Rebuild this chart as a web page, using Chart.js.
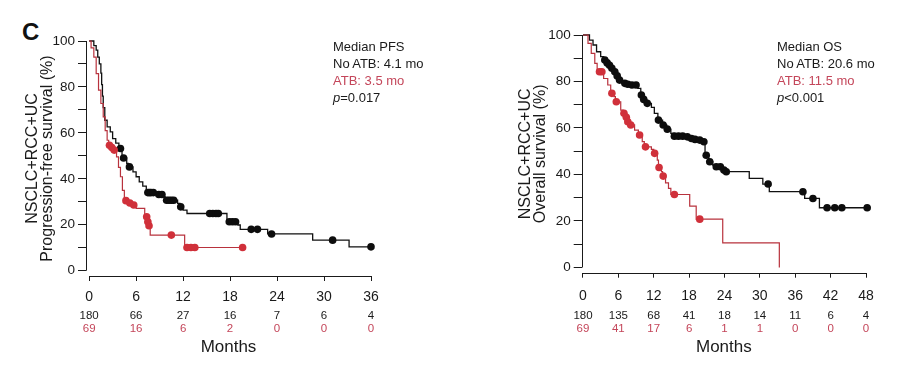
<!DOCTYPE html>
<html>
<head>
<meta charset="utf-8">
<script src="https://cdn.jsdelivr.net/npm/chart.js@4/dist/chart.umd.min.js"></script>
<style>
  body { margin: 0; background: #fff; }
  #wrap { position: relative; width: 903px; height: 366px; }
  canvas { position: absolute; top: 0; }
  #panel { position: absolute; left: 22px; top: 18px; font: bold 24px "Liberation Sans", Arial, sans-serif; color: #111; }
</style>
</head>
<body>
<div id="wrap">
  <div id="panel">C</div>
  <canvas id="pfs_chart" width="450" height="366" style="left:0"></canvas>
  <canvas id="os_chart" width="453" height="366" style="left:450px"></canvas>
</div>
<script>
// ---- progression-free survival (left) ----
const pfsTicks = [0, 6, 12, 18, 24, 30, 36];
const pfsRiskNoAtb = [180, 66, 27, 16, 7, 6, 4];
const pfsRiskAtb = [69, 16, 6, 2, 0, 0, 0];

const pfsNoAtbT = [0, 0.6, 0.9, 1.1, 1.3, 1.5, 1.6, 1.7, 1.8, 2.0, 2.3, 2.7, 3.0, 3.4, 3.8, 4.2, 4.8, 5.0, 5.6, 6.0, 6.4, 6.85, 7.3, 8.5, 9.4, 9.7, 11.3, 11.6, 12.0, 12.5, 17.6, 19.0, 19.3, 22.8, 28.55, 33.2, 36];
const pfsNoAtbS = [100, 98, 96, 93, 90, 86, 81, 76, 71, 65.5, 62.6, 60.4, 57.5, 55.5, 53.2, 49.1, 46.7, 45.2, 43, 40.9, 38.7, 36.8, 34, 33.2, 32.2, 30.7, 29.3, 27.8, 26.4, 24.9, 21.3, 19.9, 18, 16, 13.3, 10.4, 10.4];
const pfsNoAtbCensT = [4.0, 4.4, 5.15, 7.5, 7.7, 7.9, 8.2, 8.9, 9.3, 9.9, 10.2, 10.5, 10.8, 11.7, 15.4, 15.8, 16.2, 16.5, 17.9, 18.3, 18.7, 20.7, 21.5, 23.3, 31.1, 36];
const pfsNoAtbCensS = [53.2, 49.1, 45.2, 34, 34, 34, 34, 33.2, 33.2, 30.7, 30.7, 30.7, 30.7, 27.8, 24.9, 24.9, 24.9, 24.9, 21.3, 21.3, 21.3, 18, 18, 16, 13.3, 10.4];

const pfsAtbT = [0, 0.25, 0.6, 0.9, 1.2, 1.5, 1.8, 2.05, 2.3, 2.5, 2.8, 3.1, 3.5, 3.75, 4.0, 4.25, 4.5, 5.0, 5.5, 6.0, 7.1, 7.45, 7.55, 7.8, 12.2, 19.6];
const pfsAtbS = [100, 97, 93, 85.8, 78.6, 72.8, 67, 61, 56.8, 54.6, 53.6, 52.5, 49.6, 45, 40.9, 35, 30.5, 29.5, 28.6, 27.1, 23.5, 21.3, 19.6, 15.5, 10.1, 10.1];
const pfsAtbCensT = [2.6, 2.9, 3.2, 4.7, 5.2, 5.7, 7.35, 7.5, 7.65, 10.5, 12.5, 13.0, 13.5, 19.6];
const pfsAtbCensS = [54.6, 53.6, 52.5, 30.5, 29.5, 28.6, 23.5, 21.3, 19.6, 15.5, 10.1, 10.1, 10.1, 10.1];

// ---- overall survival (right) ----
const osTicks = [0, 6, 12, 18, 24, 30, 36, 42, 48];
const osRiskNoAtb = [180, 135, 68, 41, 18, 14, 11, 6, 4];
const osRiskAtb = [69, 41, 17, 6, 1, 1, 0, 0, 0];

const osNoAtbT = [0, 0.56, 1.1, 1.7, 2.3, 3.0, 3.5, 4.0, 4.4, 4.8, 5.3, 5.7, 6.1, 6.6, 7.0, 7.5, 8.2, 9.3, 9.8, 10.2, 10.8, 11.6, 12.1, 12.7, 13.5, 14.2, 14.9, 15.4, 17.6, 18.3, 18.9, 19.7, 20.4, 20.7, 21.3, 22.0, 22.5, 23.8, 24.2, 28.2, 30.5, 31.6, 37.6, 40.1, 48.2];
const osNoAtbS = [100, 100, 97.8, 95.7, 92.8, 90.7, 89.2, 88, 87, 85.7, 84.2, 82.4, 80.6, 80, 79.2, 78.8, 78.5, 77, 74.2, 72.3, 70.6, 68.9, 66.3, 63.4, 61.3, 59.5, 57.7, 56.5, 56.2, 55.5, 55.1, 54.8, 54.1, 48.3, 45.5, 44, 43.3, 41.9, 41.2, 38.3, 35.9, 32.6, 29.7, 25.7, 25.7];
const osNoAtbCensT = [3.7, 4.1, 4.5, 4.9, 5.4, 5.8, 6.2, 7.1, 7.6, 8.3, 9.0, 9.9, 10.3, 10.9, 12.8, 13.6, 14.3, 15.5, 16.2, 16.9, 17.7, 18.4, 19.0, 19.8, 20.5, 20.9, 21.5, 22.6, 23.3, 23.9, 24.3, 31.4, 37.3, 39.0, 41.4, 42.7, 43.9, 48.2];
const osNoAtbCensS = [89.2, 88, 87, 85.7, 84.2, 82.4, 80.6, 79.2, 78.8, 78.5, 78.5, 74.2, 72.3, 70.6, 63.4, 61.3, 59.5, 56.5, 56.5, 56.5, 56.2, 55.5, 55.1, 54.8, 54.1, 48.3, 45.5, 43.3, 43.3, 41.9, 41.2, 35.9, 32.6, 29.7, 25.7, 25.7, 25.7, 25.7];

const osAtbT = [0, 0.3, 0.85, 1.4, 2.0, 2.4, 2.6, 3.5, 4.2, 4.7, 5.25, 5.5, 6.4, 6.8, 7.2, 7.5, 7.9, 8.75, 9.4, 10.05, 10.4, 11.6, 12.0, 12.6, 12.8, 13.3, 13.5, 14.0, 14.5, 14.9, 18.1, 19.2, 23.7, 33.3];
const osAtbS = [100, 100, 96.4, 92.1, 87.8, 85.2, 84.2, 81.3, 78.5, 74.9, 73.5, 71.3, 67.7, 66.3, 64.6, 62.7, 61.3, 59.1, 57, 54.1, 51.9, 50.8, 49.1, 46.2, 43, 41.2, 39.3, 36.4, 34, 31.4, 26.4, 20.8, 10.6, 0];
const osAtbCensT = [2.8, 3.2, 4.9, 5.65, 6.95, 7.35, 7.6, 8.1, 9.6, 10.6, 12.15, 12.9, 13.6, 15.5, 19.8];
const osAtbCensS = [84.2, 84.2, 74.9, 71.3, 66.3, 64.6, 62.7, 61.3, 57, 51.9, 49.1, 43, 39.3, 31.4, 20.8];

const INK = '#1a1a1a';
const RED_LINE = '#b8323d';
const RED_DOT = '#d0303a';
const RED_TEXT = '#c4465a';
const FONT = '"Liberation Sans", Arial, sans-serif';

function pts(t, s) {
    return t.map((v, i) => ({x: v, y: s[i]}));
}

// axis lines, number-at-risk rows and the median notes
const kmDecor = {
    id: 'kmDecor',
    afterDraw(chart, args, o) {
        const {ctx, chartArea} = chart;
        const x = chart.scales.x, y = chart.scales.y;
        ctx.save();
        ctx.strokeStyle = INK;
        ctx.lineWidth = 1;
        ctx.beginPath();
        const ax = Math.round(chartArea.left) + 0.5;
        ctx.moveTo(ax, y.getPixelForValue(0));
        ctx.lineTo(ax, y.getPixelForValue(100));
        const ay = Math.round(chartArea.bottom) + 0.5;
        ctx.moveTo(x.getPixelForValue(0), ay);
        ctx.lineTo(x.getPixelForValue(o.ticks[o.ticks.length - 1]), ay);
        ctx.stroke();

        ctx.font = '11.5px ' + FONT;
        ctx.textAlign = 'center';
        ctx.textBaseline = 'middle';
        o.ticks.forEach(function (t, i) {
            const px = x.getPixelForValue(t);
            ctx.fillStyle = INK;
            ctx.fillText(o.riskNoAtb[i], px, o.riskY[0]);
            ctx.fillStyle = RED_TEXT;
            ctx.fillText(o.riskAtb[i], px, o.riskY[1]);
        });

        ctx.textAlign = 'left';
        ctx.font = '13px ' + FONT;
        ctx.fillStyle = INK;
        ctx.fillText(o.notes[0], o.noteX, 47);
        ctx.fillText(o.notes[1], o.noteX, 64);
        ctx.fillStyle = RED_TEXT;
        ctx.fillText(o.notes[2], o.noteX, 81);
        ctx.fillStyle = INK;
        ctx.font = 'italic 13px ' + FONT;
        ctx.fillText('p', o.noteX, 98);
        const w = ctx.measureText('p').width;
        ctx.font = '13px ' + FONT;
        ctx.fillText(o.notes[3], o.noteX + w, 98);
        ctx.restore();
    }
};

function kmChart(id, c) {
    return new Chart(document.getElementById(id), {
        type: 'scatter',
        data: {
            datasets: [
                {data: pts(c.atbCensT, c.atbCensS), showLine: false, pointRadius: 3.8, pointBackgroundColor: RED_DOT, pointBorderWidth: 0, clip: false, order: 0},
                {data: pts(c.noCensT, c.noCensS), showLine: false, pointRadius: 3.8, pointBackgroundColor: '#0d0d0d', pointBorderWidth: 0, clip: false, order: 1},
                {data: pts(c.atbT, c.atbS), showLine: true, stepped: true, borderColor: RED_LINE, borderWidth: 1.2, pointRadius: 0, clip: false, order: 2},
                {data: pts(c.noT, c.noS), showLine: true, stepped: true, borderColor: '#111', borderWidth: 1.3, pointRadius: 0, clip: false, order: 3}
            ]
        },
        options: {
            responsive: false,
            animation: false,
            events: [],
            layout: {padding: {left: 0, top: c.padTop, right: c.padRight, bottom: 0}},
            scales: {
                x: {
                    type: 'linear',
                    min: c.xMin,
                    max: c.ticks[c.ticks.length - 1],
                    afterBuildTicks: (s) => { s.ticks = c.ticks.map(v => ({value: v})); },
                    afterFit: (s) => { s.height = c.xHeight; },
                    border: {display: false},
                    grid: {drawOnChartArea: false, drawTicks: true, tickLength: 5, color: INK, tickColor: INK},
                    ticks: {color: INK, font: {family: FONT, size: 14}, padding: c.xPad, maxRotation: 0},
                    title: {display: true, text: 'Months', color: INK, font: {family: FONT, size: 17}, padding: {top: 0, bottom: 8}}
                },
                y: {
                    min: c.yMin,
                    max: 100,
                    afterBuildTicks: (s) => { s.ticks = [0, 10, 20, 30, 40, 50, 60, 70, 80, 90, 100].map(v => ({value: v})); },
                    afterFit: (s) => { s.width = c.yWidth; },
                    border: {display: false},
                    grid: {drawOnChartArea: false, drawTicks: true, tickLength: 8, color: INK, tickColor: INK},
                    ticks: {color: INK, font: {family: FONT, size: 13.5}, padding: 3, callback: (v) => (v % 20 === 0 ? v : '')},
                    title: {display: true, text: c.yTitle, color: INK, font: {family: FONT, size: 16, lineHeight: 0.95}, padding: {top: c.yTitlePad, bottom: 0}}
                }
            },
            plugins: {
                legend: {display: false},
                tooltip: {enabled: false},
                kmDecor: {
                    ticks: c.ticks,
                    riskNoAtb: c.riskNoAtb,
                    riskAtb: c.riskAtb,
                    riskY: [316, 329],
                    noteX: c.noteX,
                    notes: c.notes
                }
            }
        },
        plugins: [kmDecor]
    });
}

kmChart('pfs_chart', {
    noT: pfsNoAtbT, noS: pfsNoAtbS, noCensT: pfsNoAtbCensT, noCensS: pfsNoAtbCensS,
    atbT: pfsAtbT, atbS: pfsAtbS, atbCensT: pfsAtbCensT, atbCensS: pfsAtbCensS,
    ticks: pfsTicks, riskNoAtb: pfsRiskNoAtb, riskAtb: pfsRiskAtb,
    xMin: -0.4, yMin: -2.3, padTop: 41, padRight: 79, xHeight: 90, yWidth: 86, xPad: 8,
    yTitle: ['NSCLC+RCC+UC', 'Progression-free survival (%)'], yTitlePad: 25,
    noteX: 333,
    notes: ['Median PFS', 'No\u2009ATB: 4.1 mo', 'ATB: 3.5 mo', '=0.017']
});

kmChart('os_chart', {
    noT: osNoAtbT, noS: osNoAtbS, noCensT: osNoAtbCensT, noCensS: osNoAtbCensS,
    atbT: osAtbT, atbS: osAtbS, atbCensT: osAtbCensT, atbCensS: osAtbCensS,
    ticks: osTicks, riskNoAtb: osRiskNoAtb, riskAtb: osRiskAtb,
    xMin: -0.22, yMin: -2.24, padTop: 35, padRight: 37, xHeight: 93.3, yWidth: 131.7, xPad: 10,
    yTitle: ['NSCLC+RCC+UC', 'Overall survival (%)'], yTitlePad: 68,
    noteX: 327,
    notes: ['Median OS', 'No\u2009ATB: 20.6 mo', 'ATB: 11.5 mo', '<0.001']
});
</script>
</body>
</html>
